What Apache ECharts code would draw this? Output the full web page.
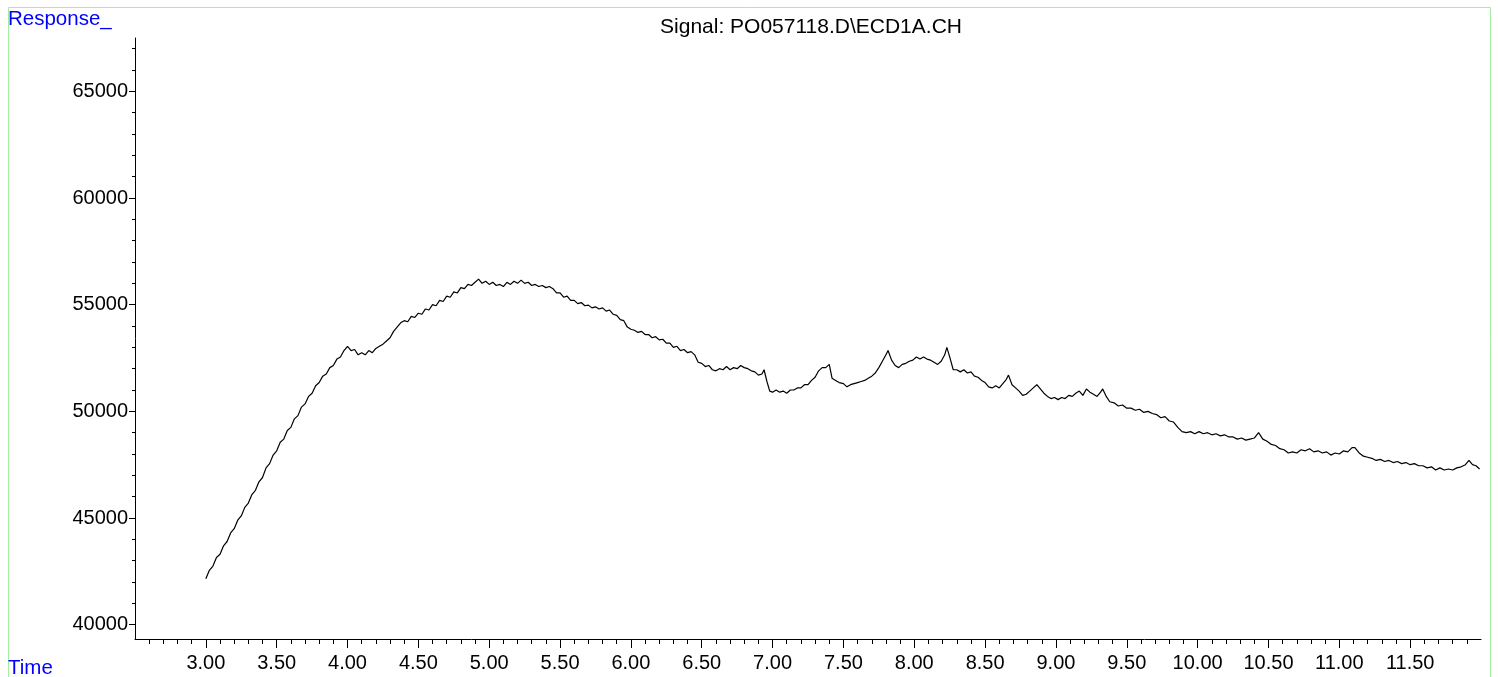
<!DOCTYPE html>
<html lang="en">
<head>
    <meta charset="UTF-8">
    <title>Signal: PO057118.D\ECD1A.CH</title>
    <script src="https://cdn.jsdelivr.net/npm/echarts@6/dist/echarts.min.js"></script>
    <style>
        html, body { margin: 0; padding: 0; background: #fff; }
        #chart { width: 1498px; height: 677px; }
    </style>
</head>
<body>
<div id="chart"></div>
<script>
    // ---------- data ----------
    var timeMin = [
        3.000,3.025,3.050,3.075,3.100,3.125,3.150,3.175,3.200,3.225,3.250,3.275,3.300,3.325,3.350,3.375,3.400,3.425,3.450,3.475,
        3.500,3.525,3.550,3.575,3.600,3.625,3.650,3.675,3.700,3.725,3.750,3.775,3.800,3.825,3.850,3.875,3.900,3.925,3.950,3.975,
        4.000,4.025,4.050,4.075,4.100,4.125,4.150,4.175,4.200,4.225,4.250,4.275,4.300,4.325,4.350,4.375,4.400,4.425,4.450,4.475,
        4.500,4.525,4.550,4.575,4.600,4.625,4.650,4.675,4.700,4.725,4.750,4.775,4.800,4.825,4.850,4.875,4.900,4.925,4.950,4.975,
        5.000,5.025,5.050,5.075,5.100,5.125,5.150,5.175,5.200,5.225,5.250,5.275,5.300,5.325,5.350,5.375,5.400,5.425,5.450,5.475,
        5.500,5.525,5.550,5.575,5.600,5.625,5.650,5.675,5.700,5.725,5.750,5.775,5.800,5.825,5.850,5.875,5.900,5.925,5.950,5.975,
        6.000,6.025,6.050,6.075,6.100,6.125,6.150,6.175,6.200,6.225,6.250,6.275,6.300,6.325,6.350,6.375,6.400,6.425,6.450,6.475,
        6.500,6.525,6.550,6.575,6.600,6.625,6.650,6.675,6.700,6.725,6.750,6.775,6.800,6.825,6.850,6.875,6.900,6.925,6.940,6.960,
        6.980,7.000,7.025,7.050,7.075,7.100,7.125,7.150,7.175,7.200,7.225,7.250,7.275,7.300,7.325,7.350,7.375,7.400,7.420,7.445,
        7.470,7.500,7.525,7.550,7.575,7.600,7.625,7.650,7.675,7.700,7.725,7.750,7.775,7.800,7.815,7.840,7.865,7.890,7.915,7.940,
        7.965,7.990,8.015,8.040,8.065,8.090,8.115,8.140,8.165,8.190,8.215,8.230,8.250,8.275,8.300,8.325,8.350,8.375,8.400,8.425,
        8.450,8.475,8.500,8.525,8.550,8.575,8.600,8.625,8.650,8.665,8.690,8.715,8.740,8.765,8.790,8.815,8.840,8.865,8.890,8.915,
        8.940,8.965,8.990,9.015,9.040,9.065,9.090,9.115,9.140,9.165,9.190,9.215,9.240,9.265,9.290,9.315,9.330,9.355,9.380,9.410,
        9.440,9.470,9.500,9.530,9.560,9.590,9.620,9.650,9.680,9.710,9.740,9.770,9.800,9.830,9.860,9.890,9.920,9.950,9.980,10.010,
        10.040,10.070,10.100,10.130,10.160,10.190,10.220,10.250,10.280,10.310,10.340,10.370,10.400,10.430,10.460,10.490,10.520,10.550,10.580,10.610,
        10.640,10.670,10.700,10.730,10.760,10.790,10.820,10.850,10.880,10.910,10.940,10.970,11.000,11.030,11.060,11.090,11.110,11.140,11.170,11.200,
        11.230,11.260,11.290,11.320,11.350,11.380,11.410,11.440,11.470,11.500,11.530,11.560,11.590,11.620,11.650,11.680,11.710,11.740,11.770,11.800,
        11.830,11.860,11.890,11.915,11.940,11.965,11.990
    ];
    var response = [
        42150,42550,42750,43150,43300,43700,43900,44300,44500,44900,45100,45500,45700,46100,46300,46700,46900,47350,47550,47950,
        48150,48550,48700,49100,49250,49650,49800,50200,50350,50700,50850,51200,51350,51650,51750,52050,52150,52450,52550,52850,
        53050,52850,52900,52650,52750,52650,52850,52750,52950,53050,53150,53300,53450,53750,53950,54150,54250,54200,54450,54400,
        54600,54550,54800,54750,55000,54950,55200,55150,55400,55350,55600,55550,55800,55750,55950,55900,56050,56200,56000,56100,
        55950,56050,55900,55950,55850,56050,55950,56100,56000,56150,56000,56050,55900,55950,55850,55900,55800,55850,55750,55550,
        55550,55350,55400,55200,55200,55050,55100,54950,54980,54850,54900,54800,54850,54700,54750,54550,54500,54300,54250,53950,
        53850,53800,53700,53750,53600,53600,53450,53500,53350,53380,53200,53200,53000,53050,52850,52900,52750,52800,52650,52300,
        52250,52100,52150,51950,51900,52000,51950,52100,51950,52050,52000,52150,52050,52000,51900,51850,51700,51750,51950,51400,
        50950,50900,51000,50900,50950,50850,51000,51000,51100,51100,51250,51250,51450,51600,51900,52050,52050,52200,51550,51450,
        51350,51300,51150,51250,51300,51350,51400,51450,51550,51650,51800,52050,52350,52650,52850,52400,52150,52050,52200,52250,
        52350,52400,52550,52450,52550,52450,52400,52300,52200,52350,52650,53000,52550,51950,51950,51850,51950,51800,51850,51650,
        51600,51450,51350,51150,51100,51200,51100,51300,51500,51700,51250,51100,50950,50750,50800,50950,51100,51250,51050,50850,
        50700,50600,50650,50550,50650,50600,50750,50700,50850,50950,50750,51050,50900,50800,50700,50900,51050,50700,50450,50400,
        50250,50300,50150,50150,50050,50100,49950,50000,49900,49850,49700,49750,49550,49500,49250,49050,49000,49050,48950,49050,
        48950,49000,48900,48950,48850,48900,48800,48800,48700,48750,48650,48700,48750,49000,48700,48600,48450,48400,48250,48200,
        48050,48100,48050,48200,48150,48250,48100,48150,48050,48100,47950,48050,48000,48150,48100,48300,48300,48050,47900,47850,
        47800,47700,47750,47650,47700,47600,47650,47550,47600,47500,47550,47450,47450,47350,47400,47250,47350,47250,47300,47250,
        47350,47400,47500,47700,47500,47450,47300
    ];
    var xMajorTicks = [3.0,3.5,4.0,4.5,5.0,5.5,6.0,6.5,7.0,7.5,8.0,8.5,9.0,9.5,10.0,10.5,11.0,11.5];
    var yMajorTicks = [40000,45000,50000,55000,60000,65000];

    var xMinorTicks = [];
    for (var i = 26; i <= 119; i++) {
        if (i % 5 !== 0) xMinorTicks.push(i / 10);
    }
    var yMinorTicks = [];
    for (var v = 40000; v <= 67000; v += 1000) {
        if (v % 5000 !== 0) yMinorTicks.push(v);
    }

    var points = [];
    for (var k = 0; k < timeMin.length; k++) {
        points.push([timeMin[k], response[k]]);
    }

    var chart = echarts.init(document.getElementById('chart'), null, {renderer: 'canvas'});
    var font = '"Liberation Sans", Arial, sans-serif';

    var option = {
        animation: false,
        backgroundColor: '#fff',
        title: {
            text: 'Signal: PO057118.D\\ECD1A.CH',
            left: 806,
            top: 12,
            textAlign: 'center',
            textStyle: {fontFamily: font, fontSize: 21, fontWeight: 'normal', color: '#000'}
        },
        graphic: [
            {
                type: 'rect',
                shape: {x: 8.5, y: 7.5, width: 1482, height: 700},
                style: {fill: 'none', stroke: '#a4eea4', lineWidth: 1},
                silent: true
            },
            {
                type: 'text', left: 8, top: 9,
                style: {text: 'Response_', fill: '#0000ff', font: '20.5px ' + font}
            },
            {
                type: 'text', left: 8, top: 658,
                style: {text: 'Time', fill: '#0000ff', font: '20.5px ' + font}
            }
        ],
        grid: {left: 135, right: 17, top: 38, bottom: 38},
        xAxis: [
            {
                type: 'value', min: 2.5, max: 12.0, position: 'bottom',
                axisLine: {show: true, lineStyle: {color: '#000', width: 1}},
                axisTick: {show: true, length: 9, customValues: xMajorTicks, lineStyle: {color: '#000'}},
                axisLabel: {
                    customValues: xMajorTicks, margin: 14, color: '#000',
                    fontFamily: font, fontSize: 20,
                    formatter: function (val) { return val.toFixed(2); }
                },
                splitLine: {show: false}
            },
            {
                type: 'value', min: 2.5, max: 12.0, position: 'bottom',
                axisLine: {show: false},
                axisTick: {show: true, length: 5, customValues: xMinorTicks, lineStyle: {color: '#000'}},
                axisLabel: {show: false},
                splitLine: {show: false}
            }
        ],
        yAxis: [
            {
                type: 'value', min: 39330, max: 67500, position: 'left',
                axisLine: {show: true, lineStyle: {color: '#000', width: 1}},
                axisTick: {show: true, length: 6, customValues: yMajorTicks, lineStyle: {color: '#000'}},
                axisLabel: {
                    customValues: yMajorTicks, margin: 7, color: '#000',
                    fontFamily: font, fontSize: 20,
                    formatter: function (val) { return String(val); }
                },
                splitLine: {show: false}
            },
            {
                type: 'value', min: 39330, max: 67500, position: 'left',
                axisLine: {show: false},
                axisTick: {show: true, length: 3, customValues: yMinorTicks, lineStyle: {color: '#000'}},
                axisLabel: {show: false},
                splitLine: {show: false}
            }
        ],
        series: [
            {
                type: 'line',
                xAxisIndex: 0,
                yAxisIndex: 0,
                data: points,
                showSymbol: false,
                lineStyle: {color: '#000', width: 1.2},
                silent: true
            }
        ]
    };

    chart.setOption(option);
</script>
</body>
</html>
